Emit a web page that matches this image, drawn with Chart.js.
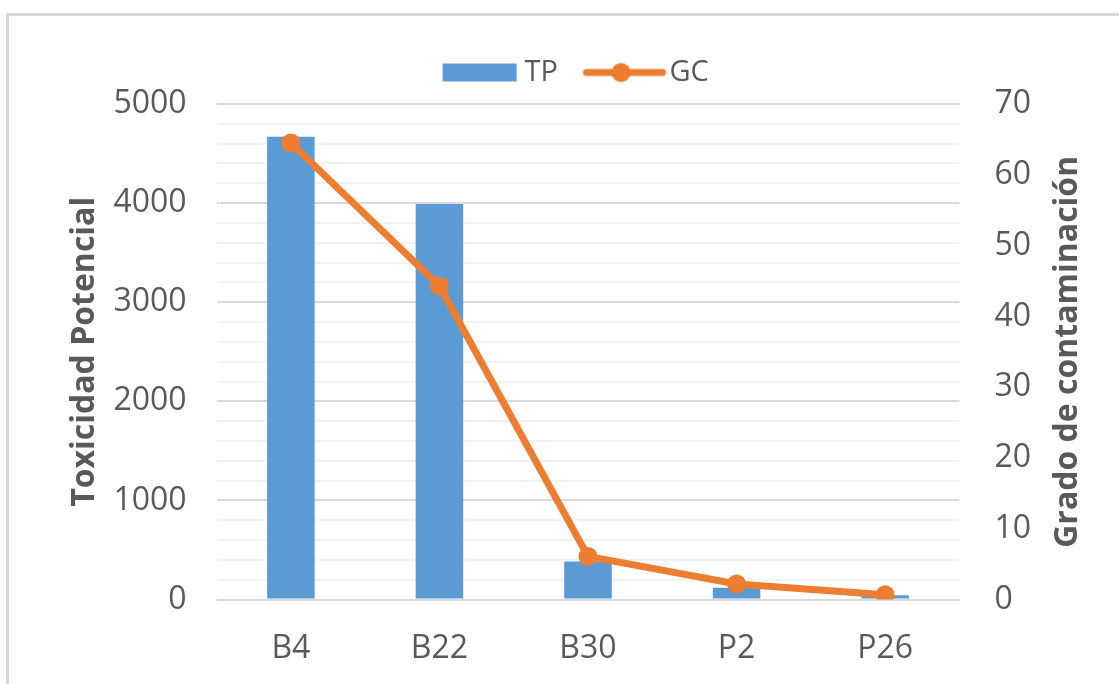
<!DOCTYPE html>
<html>
<head>
<meta charset="utf-8">
<script src="https://cdn.jsdelivr.net/npm/chart.js@4.4.1/dist/chart.umd.min.js"></script>
<style>
  html, body { margin: 0; padding: 0; background: #fff; overflow: hidden; }
  #frame { position: absolute; left: 6px; top: 13px; width: 1200px; height: 800px;
           border-top: 3px solid #d9d9d9; border-left: 3px solid #d9d9d9; }
  canvas { position: absolute; left: 0; top: 0; }
</style>
</head>
<body>
<div id="frame"></div>
<canvas id="myChart" width="1119" height="684"></canvas>
<script>
const categories = ['B4', 'B22', 'B30', 'P2', 'P26'];
const tpValues = [4670, 3990, 385, 120, 45];
const gcValues = [64.5, 44.3, 6.1, 2.2, 0.7];
const leftMax = 5000;
const rightMax = 70;

const blue = '#5B9BD5';
const orange = '#ED7D31';
const textGray = '#595959';
const fontName = "'Open Sans', 'DejaVu Sans', sans-serif";
const rightTitle = 'Grado de contaminación';

// little pictures for the legend
function tpIcon() {
    const c = document.createElement('canvas');
    c.width = 100; c.height = 24;
    const g = c.getContext('2d');
    g.fillStyle = blue;
    g.fillRect(18, 3, 74, 18);
    return c;
}
function gcIcon() {
    const c = document.createElement('canvas');
    c.width = 120; c.height = 24;
    const g = c.getContext('2d');
    g.strokeStyle = orange;
    g.lineWidth = 7;
    g.lineCap = 'round';
    g.beginPath();
    g.moveTo(27, 12);
    g.lineTo(103, 12);
    g.stroke();
    g.fillStyle = orange;
    g.beginPath();
    g.arc(61.5, 12, 9.5, 0, Math.PI * 2);
    g.fill();
    return c;
}
const icons = [tpIcon(), gcIcon()];

// some room under the legend
const legendGap = {
    id: 'legendGap',
    beforeInit(chart) {
        const fit = chart.legend.fit;
        chart.legend.fit = function() {
            fit.bind(chart.legend)();
            this.height += 7;
        };
    }
};

// right axis title reads bottom to top, like the left one
const rightTitlePlugin = {
    id: 'rightTitle',
    afterDraw(chart) {
        const a = chart.chartArea;
        const c = chart.ctx;
        c.save();
        c.translate(1068, (a.top + a.bottom) / 2);
        c.rotate(-Math.PI / 2);
        c.font = "bold 32px " + fontName;
        c.fillStyle = textGray;
        c.textAlign = 'center';
        c.textBaseline = 'middle';
        c.fillText(rightTitle, 0, 0);
        c.restore();
    }
};

const ctx = document.getElementById('myChart').getContext('2d');

const data = {
    labels: categories,
    datasets: [
        {
            type: 'bar',
            label: 'TP',
            data: tpValues,
            backgroundColor: blue,
            yAxisID: 'y',
            barPercentage: 0.32,
            categoryPercentage: 1,
            order: 1
        },
        {
            type: 'line',
            label: 'GC',
            data: gcValues,
            borderColor: orange,
            backgroundColor: orange,
            borderWidth: 7,
            pointRadius: 9.5,
            pointBorderWidth: 0,
            pointBackgroundColor: orange,
            tension: 0,
            yAxisID: 'y1',
            order: 0
        }
    ]
};

const config = {
    data: data,
    plugins: [legendGap, rightTitlePlugin],
    options: {
        responsive: false,
        animation: false,
        layout: {
            padding: { top: 32, left: 62, right: 33, bottom: -14 }
        },
        plugins: {
            tooltip: { enabled: false },
            legend: {
                position: 'top',
                labels: {
                    usePointStyle: true,
                    pointStyleWidth: 71,
                    padding: 26,
                    color: textGray,
                    font: { family: fontName, size: 29 },
                    generateLabels: function(chart) {
                        return chart.data.datasets.map(function(ds, i) {
                            return {
                                text: ds.label,
                                pointStyle: icons[i],
                                fillStyle: 'transparent',
                                strokeStyle: 'transparent',
                                lineWidth: 0,
                                fontColor: textGray,
                                hidden: false,
                                datasetIndex: i
                            };
                        });
                    }
                }
            }
        },
        scales: {
            x: {
                grid: { display: false, drawTicks: false },
                border: { display: false },
                ticks: {
                    color: textGray,
                    padding: 30,
                    font: { family: fontName, size: 32 }
                }
            },
            y: {
                position: 'left',
                min: 0,
                max: leftMax,
                border: { display: false },
                afterFit: function(scale) { scale.width -= 32; },
                grid: {
                    drawTicks: false,
                    lineWidth: 2,
                    color: function(c) {
                        return c.tick && c.tick.value % 1000 === 0 ? '#d9d9d9' : '#f2f2f2';
                    }
                },
                ticks: {
                    stepSize: 200,
                    autoSkip: false,
                    color: textGray,
                    padding: 30,
                    font: { family: fontName, size: 32 },
                    callback: function(v) { return v % 1000 === 0 ? v : ''; }
                },
                title: {
                    display: true,
                    text: 'Toxicidad Potencial',
                    color: textGray,
                    padding: { top: 4, bottom: 11 },
                    font: { family: fontName, size: 32, weight: 'bold' }
                }
            },
            y1: {
                position: 'right',
                min: 0,
                max: rightMax,
                border: { display: false },
                grid: { display: false, drawTicks: false },
                afterFit: function(scale) { scale.width += 20; },
                ticks: {
                    stepSize: 10,
                    color: textGray,
                    padding: 35,
                    font: { family: fontName, size: 32 }
                }
            }
        }
    }
};

new Chart(ctx, config);
</script>
</body>
</html>
